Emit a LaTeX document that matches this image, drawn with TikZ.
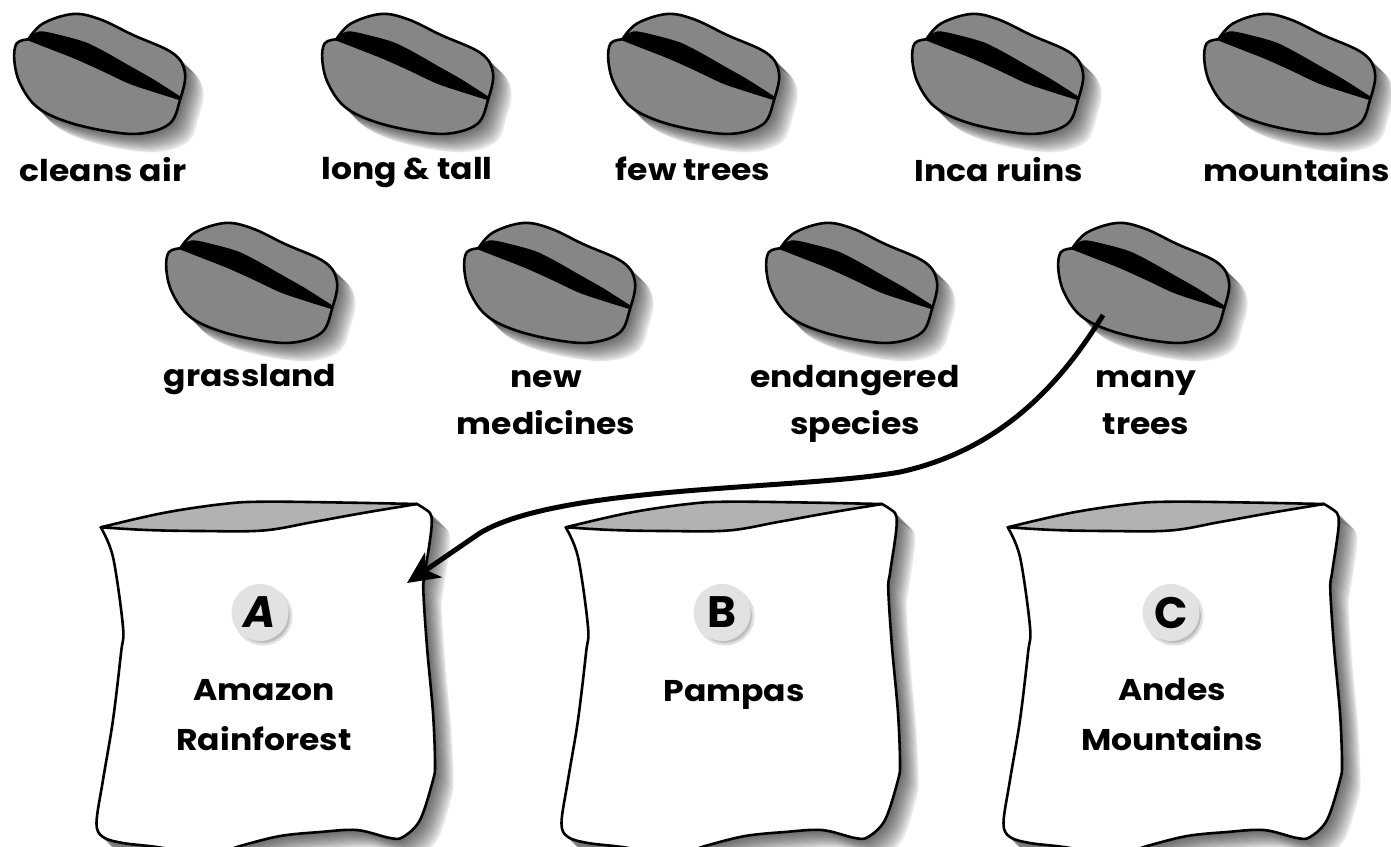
\documentclass[tikz,border=0pt]{standalone}
\usepackage{fontspec}
\setmainfont{Poppins}[BoldFont={Poppins Bold},ItalicFont={Poppins Italic},BoldItalicFont={Poppins Bold Italic}]
\newfontfamily\labelfont{Poppins Bold}[FakeStretch=1.1]
\usetikzlibrary{arrows.meta}
\definecolor{beangray}{HTML}{858786}
\definecolor{baggray}{HTML}{B2B2B2}
\definecolor{discgray}{HTML}{E2E2E2}
\newcommand{\beanoutline}{plot[smooth,tension=.6] coordinates {(28.3,39.3)(43,23.5)(73,14)(100,19.3)(133,35)(173,53.3)(185,73.3)(180,100)(170,123.3)(143,133.3)(110,131.7)(66.7,121.7)(36.7,106.7)(20,83.3)(14.3,60)(16.7,43.3)(28.3,39.3)} -- cycle}
\newcommand{\bagoutline}{plot[smooth,tension=.55] coordinates {(20.7,47.3)(33,77)(43,147)(41,173)(33,240)(23,300)(16.5,343)(23,357)(43,363)(77,367)(130,375)(160,366)(200,356)(240,352)(277,350)(310,358)(323,357)(340,340)(353,300)(355,283)(353,233)(347,167)(343.3,110)(345,93)(350,60)(351.7,43)(350,33)(337,24)} -- cycle}
\newcommand{\softshadow}[1]{%
  \foreach \s in {1,2,...,18}{\path[fill=black,draw=black,line width=1.5pt,opacity=.042,line join=round,xshift=\s pt,yshift=-\s pt] #1;}%
}
\newcommand{\lp}{\vphantom{lp}}
\tikzset{
  x=1pt,y=-1pt,
  label text/.style={font=\labelfont\fontsize{30}{47}\selectfont,align=center,text=black,inner sep=0pt},
  wide lines/.style={font=\labelfont\fontsize{30}{50}\selectfont},
  edge line/.style={draw=black,line width=2.6pt,line join=round},
  pics/bean/.style={code={
    \softshadow{\beanoutline}
    \path[fill=beangray,edge line] \beanoutline;
    \filldraw[black,line width=2.4pt,line join=round] plot[smooth,tension=.5] coordinates {(28.3,39.3)(40,32.5)(63,37)(86,43.7)(106,53.7)(129.3,67)(152.7,80.3)(180,97.7)} -- plot[smooth,tension=.5] coordinates {(180,99)(156,91.5)(129.3,82.5)(102.7,70)(76,58)(49.3,47.5)(28.3,39.3)} -- cycle;
    \coordinate (-out) at (59,106);
  }},
  pics/bag/.style={code={
    \softshadow{\bagoutline}
    \path[fill=white,edge line] \bagoutline;
    \path[fill=baggray,edge line] plot[smooth,tension=.6] coordinates {(20.7,47.3)(83,33)(143,24)(183,21.7)(260,22.5)(337,24)} -- plot[smooth,tension=.6] coordinates {(337,24)(283,33)(233,42)(183,50.5)(120,51)(67,50)(20.7,47.3)} -- cycle;
    \coordinate (-in) at (327,103);
  }},
  badge/.style={circle,fill=discgray,minimum size=57pt,inner sep=0pt,font=\bfseries\fontsize{44}{46}\selectfont},
}
\begin{document}
\begin{tikzpicture}
\useasboundingbox (0,0) rectangle (1391,846);
\clip (0,0) rectangle (1391,846);
\pic (b1) at (0,0) {bean};
\pic (b2) at (308,0) {bean};
\pic (b3) at (594,0) {bean};
\pic (b4) at (898,0) {bean};
\pic (b5) at (1190,0) {bean};
\pic (b6) at (152,209) {bean};
\pic (b7) at (450,209) {bean};
\pic (b8) at (752,209) {bean};
\pic (b9) at (1044,209) {bean};
\node[label text] (t1) at (103,173) {\lp cleans air};
\node[label text] (t2) at (407,173) {\lp long \& tall};
\node[label text] (t3) at (693,173) {\lp few trees};
\node[label text] (t4) at (999,173) {\lp Inca ruins};
\node[label text] (t5) at (1297,173) {\lp mountains};
\node[label text] (t6) at (250,380) {\lp grassland};
\node[label text] (t7) at (546,404) {\lp new\\\lp medicines};
\node[label text] (t8) at (855,404) {\lp endangered\\\lp species};
\node[label text] (t9) at (1146,404) {\lp many\\\lp trees};
\pic (bagA) at (80,480) {bag};
\pic (bagB) at (545,480) {bag};
\pic (bagC) at (987,480) {bag};
\foreach \n/\x/\l in {A/260/\textit{A},B/722/B,C/1171/C}{
  \fill[black,opacity=.12] (\x+3,616) circle (29.5);
  \fill[black,opacity=.15] (\x+3,616) circle (27);
  \node[badge] (disc\n) at (\x,612.5) {\l};
}
\node[label text,wide lines] (tA) at (264,718.5) {\lp Amazon\\\lp Rainforest};
\node[label text] (tB) at (734,694) {\lp Pampas};
\node[label text,wide lines] (tC) at (1172,718.5) {\lp Andes\\\lp Mountains};
\draw[line width=5pt,-{Stealth[length=32pt,width=30pt,inset=9pt]}] (b9-out) .. controls (1060,385) and (1000,450) .. (900,472) .. controls (800,490) and (560,485) .. (480,533) -- (bagA-in);
\end{tikzpicture}
\end{document}
